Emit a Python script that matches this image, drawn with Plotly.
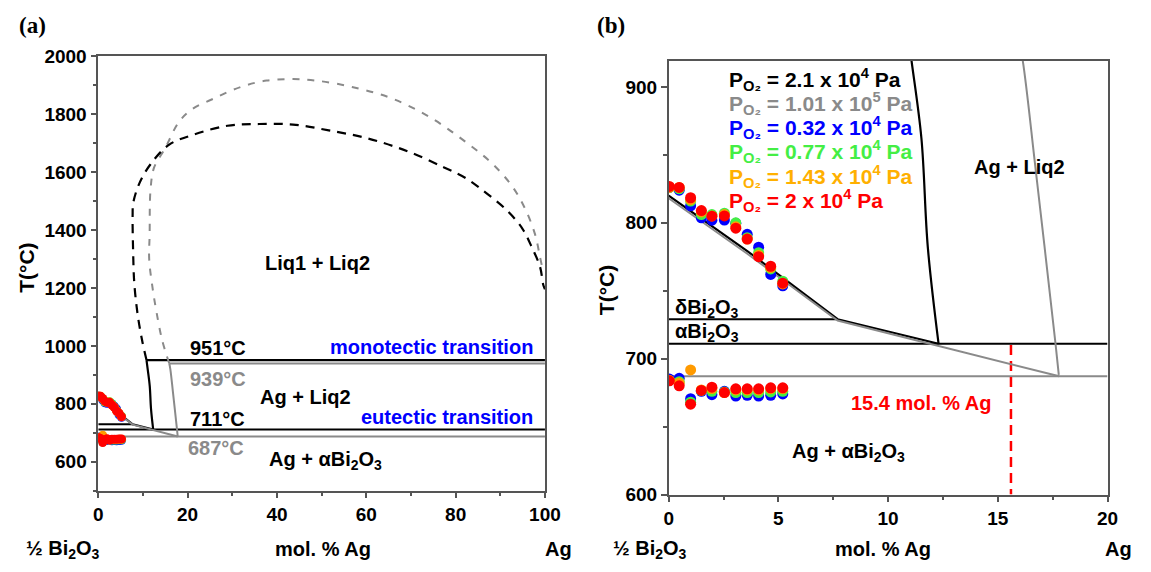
import plotly.graph_objects as go

# ---------------- data ----------------
# measured points (same in both panels), mol.% Ag
pts_x = [0.03, 0.48, 1.0, 1.49, 1.97, 2.54, 3.06, 3.58, 4.1, 4.65, 5.2]
# upper (liquidus) temperatures
up_blue = [826, 824, 812.5, 803.6, 801.9, 802, 799.6, 791.5, 782, 762, 753.6]
up_green = [826, 825, 816, 806, 806, 807, 800, 789, 778, 766, 757]
up_orange = [826, 826, 817, 808, 805, 806, 797, 788, 776, 767, 755]
up_red = [826.7, 826, 818.4, 809, 804.8, 805, 796, 788, 775, 768, 755.5]
# lower (eutectic) temperatures
lo_blue = [685, 685.5, 670.5, 676, 673.5, 676, 672.5, 673, 672.5, 673, 674]
lo_green = [684, 683, 668, 676.5, 676, 675.5, 675, 675, 675, 675.5, 676]
lo_orange = [684, 682, 691.7, 677, 678, 675, 677, 677, 677, 678, 678]
lo_red = [683.7, 680, 666.5, 676.6, 679, 675, 677.8, 677.8, 677.8, 678.5, 678.5]

# phase-diagram lines, pO2 = 2.1e4 Pa (black) and 1.01e5 Pa (gray)
blk_liq_x = [0, 3.6, 7.7, 12.3]
blk_liq_T = [820, 779, 729, 711]
blk_vert_x = [12.3, 11.81, 11.52, 11.07, 10.8]
blk_vert_T = [711, 782, 862, 919, 951]
gry_liq_x = [0, 3.6, 7.7, 17.8]
gry_liq_T = [818, 777, 728, 687]
gry_vert_x = [17.78, 17.63, 16.73, 16.14, 15.9]
gry_vert_T = [688, 711, 838.5, 919, 939]

blk_gap_x = [10.8, 9.8, 8.8, 8.06, 7.8, 7.69, 7.84, 9.2, 11.7, 15.8, 20.9, 28.9, 36, 43.6,
             51.6, 60.4, 69.2, 77.3, 82.4, 86.8, 91.2, 94.9, 97.1, 98.9, 99.6, 100]
blk_gap_T = [951, 1020, 1110, 1218, 1330, 1451, 1494, 1561, 1627, 1694, 1727, 1760, 1766, 1764,
             1744, 1716, 1672, 1617, 1578, 1528, 1472, 1406, 1339, 1273, 1212, 1195]
gry_gap_x = [15.9, 14.3, 13.0, 12.1, 11.4, 11.5, 11.7, 12.5, 15.0, 18.0, 20.9, 26.0, 31.9, 37.7,
             43.6, 48.7, 56.8, 65.6, 74.4, 83.1, 88.3, 92.7, 95.6, 97.8, 98.9, 99.6]
gry_gap_T = [939, 1020, 1120, 1206, 1300, 1384, 1539, 1616, 1683, 1772, 1816, 1855, 1894, 1916,
             1921, 1916, 1894, 1855, 1788, 1694, 1628, 1550, 1472, 1384, 1306, 1255]

T_mono_blk, T_mono_gry = 951, 939
T_eut_blk, T_eut_gry = 711, 687
T_delta_alpha = 729
delta_alpha_end = 7.7
x_limit_line = 15.6

xa_ticks = [0, 20, 40, 60, 80, 100]
ya_ticks = [600, 800, 1000, 1200, 1400, 1600, 1800, 2000]
xb_ticks = [0, 5, 10, 15, 20]
yb_ticks = [600, 700, 800, 900]

legend_labels = [
    "P<sub>O₂</sub> = 2.1 x 10<sup>4</sup> Pa",
    "P<sub>O₂</sub> = 1.01 x 10<sup>5</sup> Pa",
    "P<sub>O₂</sub> = 0.32 x 10<sup>4</sup> Pa",
    "P<sub>O₂</sub> = 0.77 x 10<sup>4</sup> Pa",
    "P<sub>O₂</sub> = 1.43 x 10<sup>4</sup> Pa",
    "P<sub>O₂</sub> = 2 x 10<sup>4</sup> Pa",
]

# ---------------- styling ----------------
BLACK = "#000000"
GRAY = "#8a8a8a"
BLUE = "#0000ff"
GREEN = "#44ee44"
ORANGE = "#ff9a00"
ORANGE_T = "#ffb000"
RED = "#ff0000"
FONT = "Liberation Sans, Arial, sans-serif"
LBL = 20

fig = go.Figure()


def add_panel(xa, ya, msize, panel_b):
    kw = dict(xaxis=xa, yaxis=ya, showlegend=False, hoverinfo="skip")
    xmax = 20 if panel_b else 100
    fig.add_trace(go.Scatter(x=[0, xmax], y=[T_eut_gry] * 2, mode="lines",
                             line=dict(color=GRAY, width=2), **kw))
    fig.add_trace(go.Scatter(x=[0, xmax], y=[T_eut_blk] * 2, mode="lines",
                             line=dict(color=BLACK, width=2), **kw))
    fig.add_trace(go.Scatter(x=[0, delta_alpha_end], y=[T_delta_alpha] * 2, mode="lines",
                             line=dict(color=BLACK, width=2), **kw))
    if not panel_b:
        fig.add_trace(go.Scatter(x=[gry_vert_x[-1], 100], y=[T_mono_gry] * 2, mode="lines",
                                 line=dict(color=GRAY, width=2), **kw))
        fig.add_trace(go.Scatter(x=[blk_vert_x[-1], 100], y=[T_mono_blk] * 2, mode="lines",
                                 line=dict(color=BLACK, width=2.2), **kw))
        fig.add_trace(go.Scatter(x=gry_gap_x, y=gry_gap_T, mode="lines", line_shape="spline",
                                 line=dict(color=GRAY, width=2, dash="7px,8px"), **kw))
        fig.add_trace(go.Scatter(x=blk_gap_x, y=blk_gap_T, mode="lines", line_shape="spline",
                                 line=dict(color=BLACK, width=2.2, dash="9px,7px"), **kw))
    else:
        fig.add_trace(go.Scatter(x=[x_limit_line] * 2, y=[T_eut_blk - 1, 600], mode="lines",
                                 line=dict(color=RED, width=2.5, dash="10px,6px"), **kw))
    fig.add_trace(go.Scatter(x=blk_liq_x, y=blk_liq_T, mode="lines",
                             line=dict(color=BLACK, width=2.2), **kw))
    fig.add_trace(go.Scatter(x=blk_vert_x, y=blk_vert_T, mode="lines", line_shape="spline",
                             line=dict(color=BLACK, width=2.2), **kw))
    fig.add_trace(go.Scatter(x=gry_liq_x, y=gry_liq_T, mode="lines",
                             line=dict(color=GRAY, width=2), **kw))
    fig.add_trace(go.Scatter(x=gry_vert_x, y=gry_vert_T, mode="lines", line_shape="spline",
                             line=dict(color=GRAY, width=2), **kw))
    for col, up, lo in [(BLUE, up_blue, lo_blue), (GREEN, up_green, lo_green),
                        (ORANGE, up_orange, lo_orange), (RED, up_red, lo_red)]:
        fig.add_trace(go.Scatter(x=pts_x + pts_x, y=up + lo, mode="markers",
                                 marker=dict(color=col, size=msize, line=dict(width=0)), **kw))


add_panel("x", "y", 9, False)
add_panel("x2", "y2", 11, True)

axis_common = dict(showline=True, linecolor="#555555", linewidth=1.5, mirror=True,
                   ticks="outside", ticklen=6, tickwidth=1.5, tickcolor="#555555",
                   showgrid=False, zeroline=False,
                   tickfont=dict(family=FONT, size=19, color="black", weight="bold"))

fig.update_layout(
    width=1151, height=572, autosize=False,
    margin=dict(l=0, r=0, t=0, b=0),
    paper_bgcolor="white", plot_bgcolor="white",
    showlegend=False,
    xaxis=dict(domain=[95 / 1151, 550 / 1151], range=[0, 100], tickvals=xa_ticks,
               minor=dict(dtick=10, tick0=0, ticks="outside", ticklen=4, tickcolor="#555555"),
               anchor="y", **axis_common),
    yaxis=dict(domain=[(572 - 499) / 572, (572 - 48) / 572], range=[500, 2000], tickvals=ya_ticks,
               minor=dict(dtick=100, tick0=0, ticks="outside", ticklen=4, tickcolor="#555555"),
               anchor="x", **axis_common),
    xaxis2=dict(domain=[676 / 1151, 1123 / 1151], range=[0, 20], tickvals=xb_ticks,
                minor=dict(dtick=2.5, tick0=0, ticks="outside", ticklen=4, tickcolor="#555555"),
                anchor="y2", **axis_common),
    yaxis2=dict(domain=[(572 - 503) / 572, (572 - 53) / 572], range=[600, 919], tickvals=yb_ticks,
                minor=dict(dtick=50, tick0=0, ticks="outside", ticklen=4, tickcolor="#555555"),
                anchor="x2", **axis_common),
)

ann = []


def txt(text, x, y, xref, yref, color="black", size=LBL, xanchor="center", yanchor="middle",
        angle=0, family=FONT):
    ann.append(dict(text=text, x=x, y=y, xref=xref, yref=yref, showarrow=False,
                    xanchor=xanchor, yanchor=yanchor, textangle=angle,
                    font=dict(family=family, size=size, color=color, weight="bold")))


txt("(a)", 28 / 1151, (572 - 16) / 572, "paper", "paper", size=23,
    family="Liberation Serif, Times New Roman, serif")
txt("(b)", 617 / 1151, (572 - 16) / 572, "paper", "paper", size=23,
    family="Liberation Serif, Times New Roman, serif")
txt("T(°C)", 22 / 1151, (572 - 268) / 572, "paper", "paper", size=21, angle=-90)
txt("T(°C)", 612 / 1151, (572 - 291) / 572, "paper", "paper", size=21, angle=-90)
yb = (572 - 560) / 572
txt("½ Bi<sub>2</sub>O<sub>3</sub>", 19 / 1151, yb, "paper", "paper", xanchor="left")
txt("mol. % Ag", 324 / 1151, yb, "paper", "paper")
txt("Ag", 564 / 1151, yb, "paper", "paper")
txt("½ Bi<sub>2</sub>O<sub>3</sub>", 617 / 1151, yb, "paper", "paper", xanchor="left")
txt("mol. % Ag", 894 / 1151, yb, "paper", "paper")
txt("Ag", 1134 / 1151, yb, "paper", "paper")

txt("Liq1 + Liq2", 49.0, 1285, "x", "y")
txt("951°C", 20.0, 992, "x", "y", xanchor="left")
txt("monotectic transition", 97.8, 996, "x", "y", color=BLUE, xanchor="right")
txt("939°C", 20.0, 886, "x", "y", color=GRAY, xanchor="left")
txt("Ag + Liq2", 46.4, 823, "x", "y")
txt("711°C", 20.0, 749, "x", "y", xanchor="left")
txt("eutectic transition", 97.8, 753, "x", "y", color=BLUE, xanchor="right")
txt("687°C", 19.7, 646, "x", "y", color=GRAY, xanchor="left")
txt("Ag + αBi<sub>2</sub>O<sub>3</sub>", 50.8, 604, "x", "y")

leg_cols = [BLACK, GRAY, BLUE, GREEN, ORANGE_T, RED]
leg_T = [905.5, 887.7, 869.9, 852.1, 834.3, 816.5]
for lab, col, t in zip(legend_labels, leg_cols, leg_T):
    txt(lab, 2.64, t, "x2", "y2", color=col, xanchor="left", size=21)
txt("Ag + Liq2", 16.0, 841, "x2", "y2")
txt("δBi<sub>2</sub>O<sub>3</sub>", 0.18, 737, "x2", "y2", xanchor="left")
txt("αBi<sub>2</sub>O<sub>3</sub>", 0.18, 719, "x2", "y2", xanchor="left")
txt("15.4 mol. % Ag", 14.8, 667, "x2", "y2", color=RED, xanchor="right")
txt("Ag + αBi<sub>2</sub>O<sub>3</sub>", 8.2, 631, "x2", "y2")

fig.update_layout(annotations=ann)
fig.write_html("out.html", config={"displayModeBar": False},
               post_script="document.body.style.margin='0';document.body.style.overflow='hidden';")
